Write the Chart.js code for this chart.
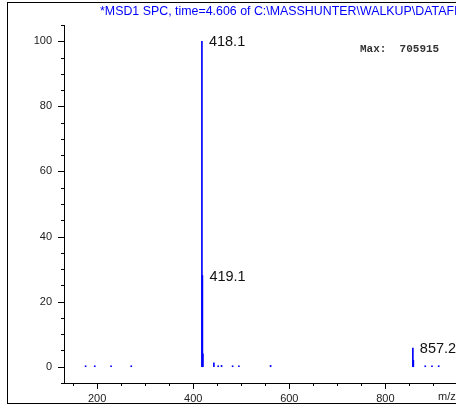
<!DOCTYPE html>
<html>
<head>
<meta charset="utf-8">
<script src="https://cdn.jsdelivr.net/npm/chart.js@4.4.1/dist/chart.umd.min.js"></script>
<style>
  html, body { margin: 0; padding: 0; background: #fff; overflow: hidden; }
  canvas { display: block; }
</style>
</head>
<body>
<canvas id="c" width="456" height="409"></canvas>
<script>
// ---- data ----
const titleText = "*MSD1 SPC, time=4.606 of C:\\MASSHUNTER\\WALKUP\\DATAFI";
const maxText = "Max:  705915";
const xAxisTitle = "m/z";
const peakMz =        [176, 195, 229, 271, 418.1, 419.1, 420.1, 443, 452, 459, 482, 495, 561, 857.2, 858.2, 883, 897, 911];
const peakIntensity = [0.3, 0.3, 0.3, 0.3, 100,   28,    4,     1.2, 0.3, 0.4, 0.3, 0.3, 0.4, 5.7,   2,     0.3, 0.3, 0.3];
const labeledPeaks =  ["418.1", "419.1", "857.2"];
const xTickLabels = [200, 400, 600, 800];
const yTickLabels = [0, 20, 40, 60, 80, 100];

const X_MIN = 131, X_MAX = 947, X_MINOR = 50;
const Y_MIN = -5, Y_MAX = 105, Y_MINOR = 5;

const framePlugin = {
  id: 'frame',
  beforeDraw(chart) {
    const ctx = chart.ctx;
    ctx.save();
    ctx.fillStyle = '#fff';
    ctx.fillRect(0, 0, chart.width, chart.height);
    ctx.strokeStyle = '#000';
    ctx.lineWidth = 1;
    ctx.strokeRect(7.5, 2.5, chart.width + 20, 401);
    ctx.restore();
  }
};

const decorPlugin = {
  id: 'decor',
  afterDraw(chart) {
    const ctx = chart.ctx;
    const xs = chart.scales.x, ys = chart.scales.y;
    const area = chart.chartArea;
    ctx.save();
    ctx.strokeStyle = '#000';
    ctx.lineWidth = 1;
    // y ticks
    for (let v = Y_MIN; v <= Y_MAX + 1e-9; v += Y_MINOR) {
      const y = Math.round(ys.getPixelForValue(v)) + 0.5;
      const len = yTickLabels.includes(v) ? 6 : 3;
      ctx.beginPath();
      ctx.moveTo(area.left - len, y);
      ctx.lineTo(area.left, y);
      ctx.stroke();
    }
    // x ticks
    const start = Math.ceil(X_MIN / X_MINOR) * X_MINOR;
    for (let v = start; v <= X_MAX; v += X_MINOR) {
      const x = Math.round(xs.getPixelForValue(v)) + 0.5;
      const len = xTickLabels.includes(v) ? 6 : 3;
      ctx.beginPath();
      ctx.moveTo(x, area.bottom);
      ctx.lineTo(x, area.bottom + len);
      ctx.stroke();
    }
    // title
    ctx.fillStyle = '#0000ff';
    ctx.font = '12.4px "Liberation Sans", Arial, sans-serif';
    ctx.textBaseline = 'middle';
    ctx.textAlign = 'left';
    ctx.fillText(titleText, 100, 12);
    // max
    ctx.fillStyle = '#333';
    ctx.font = 'bold 11px "Liberation Mono", "Courier New", monospace';
    ctx.fillText(maxText, 360, 49);
    // axis title
    ctx.fillStyle = '#222';
    ctx.font = '11px "Liberation Sans", Arial, sans-serif';
    ctx.fillText(xAxisTitle, 438, 397);
    // peak labels
    const meta = chart.getDatasetMeta(0);
    ctx.fillStyle = '#111';
    ctx.font = '14.5px "Liberation Sans", Arial, sans-serif';
    labeledPeaks.forEach(lbl => {
      const i = peakMz.indexOf(parseFloat(lbl));
      const el = meta.data[i];
      ctx.fillText(lbl, el.x + 7, el.y + 1);
    });
    ctx.restore();
  }
};

new Chart(document.getElementById('c'), {
  type: 'bar',
  data: {
    datasets: [{
      data: peakMz.map((m, i) => ({ x: m, y: peakIntensity[i] })),
      backgroundColor: '#0000ff',
      borderWidth: 0,
      barThickness: 1
    }]
  },
  options: {
    responsive: false,
    animation: false,
    devicePixelRatio: 1,
    layout: { padding: { left: 0, top: 25, right: 0, bottom: 0 } },
    plugins: { legend: { display: false }, tooltip: { enabled: false } },
    scales: {
      x: {
        type: 'linear',
        min: X_MIN, max: X_MAX,
        offset: false,
        grid: { display: false, drawTicks: false },
        border: { display: true, color: '#000', width: 1 },
        afterBuildTicks: s => { s.ticks = xTickLabels.map(v => ({ value: v })); },
        afterFit: s => { s.height = 26; },
        ticks: {
          autoSkip: false, maxRotation: 0, padding: 9,
          color: '#222',
          font: { family: '"Liberation Sans", Arial, sans-serif', size: 11 }
        }
      },
      y: {
        min: Y_MIN, max: Y_MAX,
        grid: { display: false, drawTicks: false },
        border: { display: true, color: '#000', width: 1 },
        afterBuildTicks: s => { s.ticks = yTickLabels.map(v => ({ value: v })); },
        afterFit: s => { s.width = 64; },
        ticks: {
          autoSkip: false, padding: 12,
          color: '#222',
          font: { family: '"Liberation Sans", Arial, sans-serif', size: 11 }
        }
      }
    }
  },
  plugins: [framePlugin, decorPlugin]
});
</script>
</body>
</html>
